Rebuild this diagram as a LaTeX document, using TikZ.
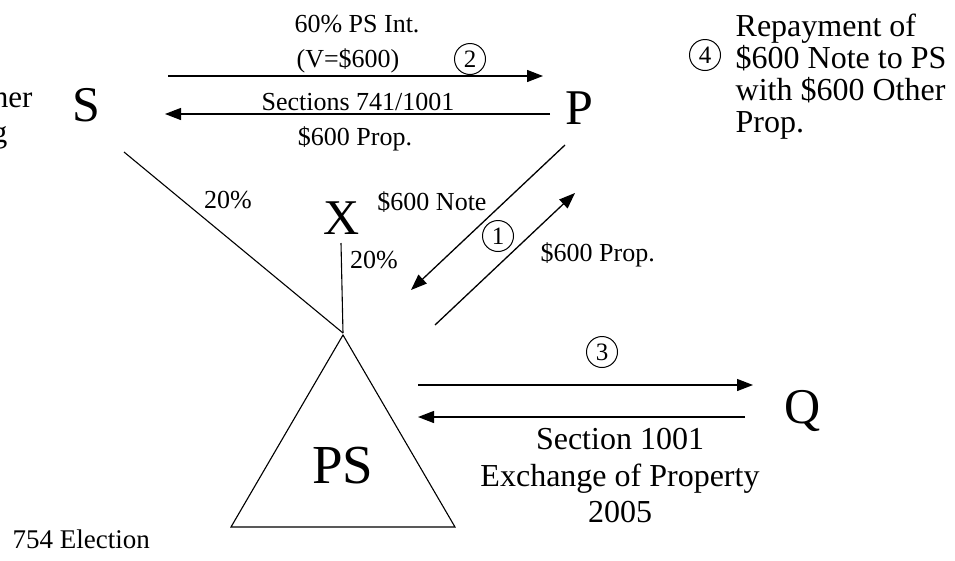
\documentclass[tikz,border=0pt]{standalone}
\usepackage{fontspec}
\setmainfont{Liberation Serif}
\usetikzlibrary{arrows.meta}
\begin{document}
\begin{tikzpicture}[x=1pt,y=-1pt,
  line width=1.3pt,
  flow/.style={-{Triangle[length=16pt,width=12pt]}},
  big/.style={font=\fontsize{50}{54}\selectfont, inner sep=0pt, anchor=base},
  lbl/.style={font=\fontsize{26}{30}\selectfont, inner sep=0pt, anchor=base},
  note/.style={font=\fontsize{32}{36.5}\selectfont, inner sep=0pt, align=center},
  num/.style={circle, draw, line width=1pt, minimum size=31pt, inner sep=0pt,
              font=\fontsize{25}{25}\selectfont}]
\useasboundingbox (0,0) rectangle (955,560);

% parties
\node[big] (S) at (86,121) {S};
\node[big] (P) at (579,124) {P};
\node[big] (X) at (342,234) {X};
\node[big] (Q) at (803,423) {Q};

% the partnership PS
\coordinate (apex) at (343,335);
\coordinate (bl) at (231,527);
\coordinate (br) at (455,527);
\draw[line width=1.1pt] (apex) -- (br) -- (bl) -- cycle;
\node[font=\fontsize{55}{58}\selectfont, inner sep=0pt, anchor=base] (PS) at (343,483) {PS};

% ownership lines
\coordinate (sfoot) at (124,152);
\coordinate (xfoot) at (341,243);
\coordinate (xtop) at (343,333);
\draw[line width=1.1pt] (sfoot) -- (xtop);
\draw[line width=1.1pt] (xfoot) -- (xtop);
\node[lbl] (s20) at (228,208) {20\%};
\node[lbl] (x20) at (374,268) {20\%};

% step 2: S and P
\coordinate (a2s) at (168,76);
\coordinate (a2e) at (543,76);
\coordinate (b2s) at (550,114);
\coordinate (b2e) at (165,114);
\draw[flow] (a2s) -- (a2e);
\draw[flow] (b2s) -- (b2e);
\node[lbl] (int) at (357,32) {60\% PS Int.};
\node[lbl] (val) at (348,67) {(V=\$600)};
\node[num] (n2) at (470,59) {2};
\node[lbl] (sec) at (358,110) {Sections 741/1001};
\node[lbl] (prop2) at (355,145) {\$600 Prop.};

% step 1: P and PS
\coordinate (c1s) at (565,145);
\coordinate (c1e) at (411,290);
\coordinate (d1s) at (435,325);
\coordinate (d1e) at (575,193);
\draw[flow] (c1s) -- (c1e);
\draw[flow] (d1s) -- (d1e);
\node[lbl] (note1) at (432,210) {\$600 Note};
\node[num] (n1) at (498,236) {1};
\node[lbl, anchor=base west] (prop1) at (540,261) {\$600 Prop.};

% step 3: PS and Q
\coordinate (e3s) at (418,385);
\coordinate (e3e) at (753,385);
\coordinate (f3s) at (745,417);
\coordinate (f3e) at (418,417);
\draw[flow] (e3s) -- (e3e);
\draw[flow] (f3s) -- (f3e);
\node[num] (n3) at (602,352) {3};
\node[note, anchor=north] (ex3) at (620,428) {Section 1001\\Exchange of Property\\2005};

% step 4
\node[num] (n4) at (705,55) {4};
\node[font=\fontsize{32}{32}\selectfont, inner sep=0pt, align=left, anchor=north west]
  (rep) at (735,13) {Repayment of\\\$600 Note to PS\\with \$600 Other\\Prop.};

% text running off the left edge
\node[font=\fontsize{31}{33}\selectfont, inner sep=0pt, anchor=base east] (lt1) at (33,107) {Other};
\node[font=\fontsize{31}{33}\selectfont, inner sep=0pt, anchor=base east] (lt2) at (8,142) {ing};

\node[font=\fontsize{27}{30}\selectfont, inner sep=0pt, anchor=base west] (elect) at (12,548) {754 Election};
\end{tikzpicture}
\end{document}
